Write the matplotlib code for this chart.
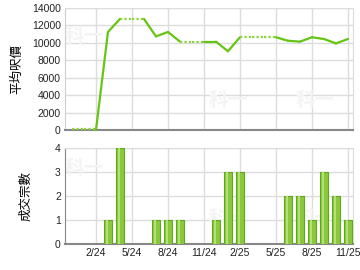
import numpy as np
import matplotlib.pyplot as plt

plt.rcParams['font.family'] = ['Liberation Sans', 'Noto Sans CJK TC', 'DejaVu Sans']

# 月份 12/23 ... 11/25
months = ['12/23', '1/24', '2/24', '3/24', '4/24', '5/24', '6/24', '7/24', '8/24',
          '9/24', '10/24', '11/24', '12/24', '1/25', '2/25', '3/25', '4/25', '5/25',
          '6/25', '7/25', '8/25', '9/25', '10/25', '11/25']
# 平均呎價 (None = 當月無成交)
price = [0, None, None, 11200, 12700, None, None, 10700, 11200,
         10100, None, None, 10100, 9000, 10600, None, None, None,
         10200, 10100, 10600, 10400, 9900, 10400]
# 成交宗數
count = [0, 0, 0, 1, 4, 0, 0, 1, 1,
         1, 0, 0, 1, 3, 3, 0, 0, 0,
         2, 2, 1, 3, 2, 1]
tick_labels = ['2/24', '5/24', '8/24', '11/24', '2/25', '5/25', '8/25', '11/25']

x = np.arange(len(months))
tick_pos = [months.index(t) for t in tick_labels]

# 無成交月份沿用上月價格
filled = []
last = 0
for p in price:
    if p is not None:
        last = p
    filled.append(last)

fig = plt.figure(figsize=(3.6, 2.7), dpi=100)
ax1 = fig.add_axes([0.1806, 0.5185, 0.8, 0.4537])
ax2 = fig.add_axes([0.1806, 0.0981, 0.8, 0.3556])

line_c = '#66c414'
for i in range(1, len(x)):
    seg = np.array(filled[i-1:i+1], dtype=float)
    if price[i] is None or (i <= 2):
        if seg.max() == 0:
            seg = seg + 150   # 零值點線略高於軸線
        ax1.plot(x[i-1:i+1], seg, color='#8ad43c', lw=1.6,
                 linestyle=(0, (1, 1)), dash_capstyle='butt', zorder=5, clip_on=False)
    else:
        ax1.plot(x[i-1:i+1], seg, color=line_c, lw=1.6,
                 solid_capstyle='round', zorder=5, clip_on=False)

ax2.bar(x, count, width=0.72, color='#8cc83e', edgecolor='#5ea81c', linewidth=0.8, zorder=3)
ax2.bar(x - 0.08, count, width=0.22, color='#b4e07a', linewidth=0, zorder=4)

for ax in (ax1, ax2):
    ax.set_xlim(-0.58, 23.42)
    ax.set_xticks(tick_pos)
    ax.grid(True, color='#dcdcdc', linewidth=1)
    ax.set_axisbelow(True)
    ax.tick_params(length=0, labelsize=7.5, colors='#222222', pad=3)
    for s in ('top', 'right'):
        ax.spines[s].set_color('#dcdcdc')
    ax.spines['left'].set_color('#cccccc')
    ax.spines['bottom'].set_color('#888888')
    ax.spines['bottom'].set_linewidth(1.5)

ax1.set_ylim(0, 14000)
ax1.set_yticks(range(0, 14001, 2000))
ax1.set_xticklabels([])
ax1.set_ylabel('平均呎價', fontsize=9, labelpad=6)

ax2.set_ylim(0, 4)
ax2.set_yticks(range(0, 5))
ax2.set_xticklabels(tick_labels)
ax2.spines['left'].set_color('#888888')
ax2.set_ylabel('成交宗數', fontsize=9, labelpad=16)

# 淡色水印
for ax in (ax1, ax2):
    for wx, wy in ((0.0, 0.72), (0.5, 0.2), (0.8, 0.2)):
        ax.text(wx, wy, '科一', transform=ax.transAxes, fontsize=14, color='#f4f4f4',
                fontweight='bold', zorder=1, family=['Noto Sans CJK TC'])

fig.savefig('out.png', dpi=100)
